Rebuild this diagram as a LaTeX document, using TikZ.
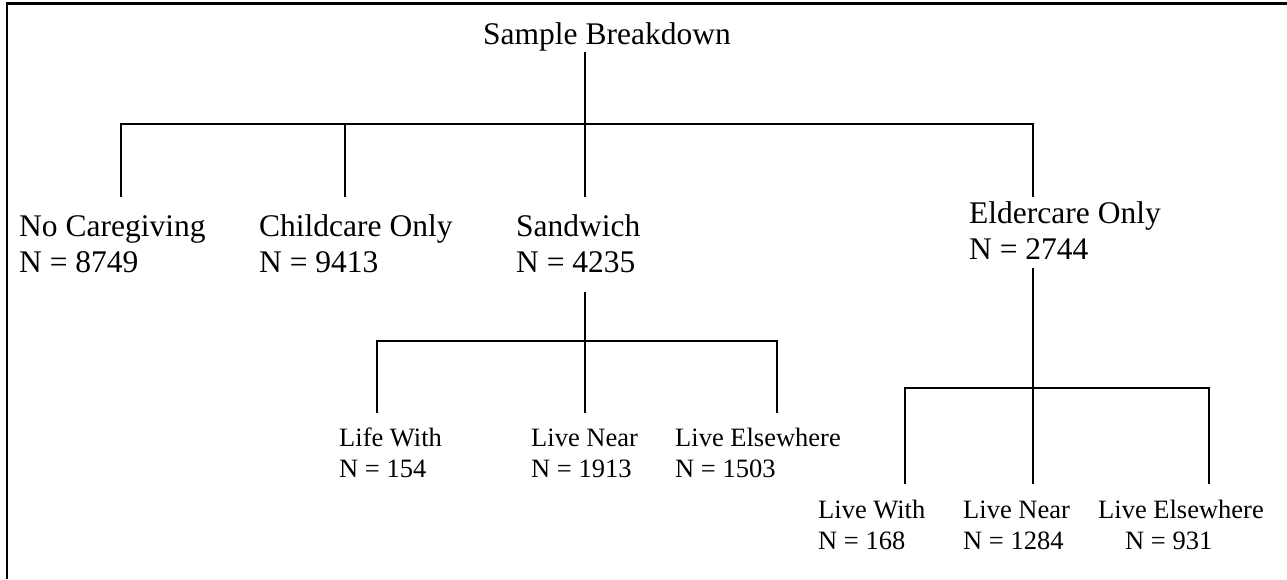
\documentclass[tikz,border=0pt]{standalone}
\usepackage{fontspec}
\setmainfont{Liberation Serif}
\begin{document}
\begin{tikzpicture}[x=1pt,y=-1pt,
	branch/.style={line width=1.8pt},
	gross/.style={anchor=base west,inner sep=0pt,align=left,font=\fontsize{31.5}{36}\selectfont},
	klein/.style={anchor=base west,inner sep=0pt,align=left,font=\fontsize{26.5}{30.5}\selectfont}]
	\useasboundingbox (0,0) rectangle (1287,579);
	% Rahmen
	\draw [line width=2.2pt] (7,579) -- (7,3.5) -- (1287,3.5);
	% Wurzel
	\node [gross] (root) at (483,44) {Sample Breakdown};
	\coordinate (rtop) at (585,52);
	\coordinate (hub) at (585,124);
	% Hauptebene (Knoten stehen auf der Grundlinie der letzten Zeile)
	\coordinate (e1) at (121,197);
	\coordinate (e2) at (345,197);
	\coordinate (e3) at (585,197);
	\coordinate (e4) at (1033,197);
	\draw [branch] (rtop) -- (e3);
	\draw [branch] (e1) -- (e1 |- hub) -- (e4 |- hub) -- (e4);
	\draw [branch] (e2) -- (e2 |- hub);
	\node [gross] (nocare) at (19,272) {No Caregiving\\N = 8749};
	\node [gross] (child) at (259,272) {Childcare Only\\N = 9413};
	\node [gross] (sandwich) at (516,272) {Sandwich\\N = 4235};
	\node [gross] (elder) at (969,259) {Eldercare Only\\N = 2744};
	%%%% Sandwich
	\coordinate (stop) at (585,292);
	\coordinate (shub) at (585,341);
	\coordinate (s1) at (377,413);
	\coordinate (s2) at (585,413);
	\coordinate (s3) at (777,413);
	\draw [branch] (stop) -- (s2);
	\draw [branch] (s1) -- (s1 |- shub) -- (s3 |- shub) -- (s3);
	\node [klein] (swith) at (339,477) {Life With\\N = 154};
	\node [klein] (snear) at (531,477) {Live Near\\N = 1913};
	\node [klein] (selse) at (675,477) {Live Elsewhere\\N = 1503};
	%%%% Eldercare
	\coordinate (etop) at (1033,268);
	\coordinate (ehub) at (1033,388);
	\coordinate (f1) at (905,484);
	\coordinate (f2) at (1033,484);
	\coordinate (f3) at (1209,484);
	\draw [branch] (etop) -- (f2);
	\draw [branch] (f1) -- (f1 |- ehub) -- (f3 |- ehub) -- (f3);
	\node [klein] (ewith) at (818,549) {Live With\\N = 168};
	\node [klein] (enear) at (963,549) {Live Near\\N = 1284};
	\node [klein] (eelse) at (1098,549) {Live Elsewhere\\\hspace*{27pt}N = 931};
\end{tikzpicture}
\end{document}
